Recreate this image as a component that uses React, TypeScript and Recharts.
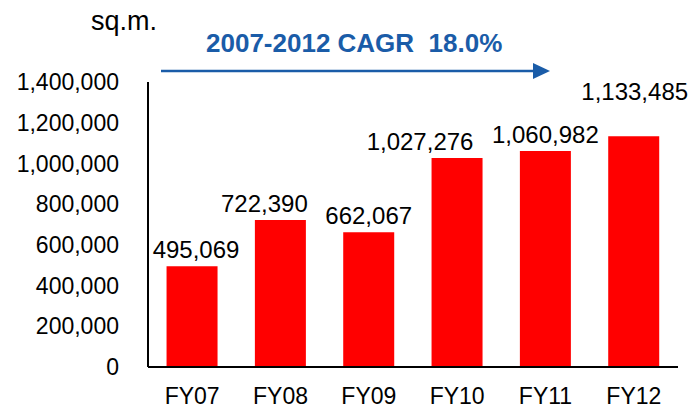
import React from "react";
import { BarChart, Bar, XAxis, YAxis, LabelList } from "recharts";

const years = ["FY07", "FY08", "FY09", "FY10", "FY11", "FY12"];
const area = [495069, 722390, 662067, 1027276, 1060982, 1133485];
const yTicks = [0, 200000, 400000, 600000, 800000, 1000000, 1200000, 1400000];

const unitLabel = "sq.m.";
const cagrLabel = "2007-2012 CAGR  18.0%";

// small nudges so the value labels sit where the original deck put them
const labelNudge: Record<string, [number, number]> = {
  FY07: [4, 0],
  FY08: [-16, 0],
  FY10: [-37, 0],
  FY12: [1, -28],
};

const FONT = "'Liberation Sans', Arial, sans-serif";
const BLUE = "#1a5ca8";

const data = years.map((y, i) => ({ year: y, value: area[i] }));

const fmt = (v: number) => v.toLocaleString("en-US");

function ValueLabel(props: any) {
  const { x, y, width, value, index } = props;
  const [dx, dy] = labelNudge[years[index]] || [0, 0];
  return (
    <text
      x={x + width / 2 + dx}
      y={y - 8 + dy}
      textAnchor="middle"
      fill="#000"
      fontSize={24}
      fontFamily={FONT}
    >
      {fmt(value)}
    </text>
  );
}

export default function App() {
  return (
    <div
      style={{
        position: "absolute",
        left: 0,
        top: 0,
        width: 694,
        height: 408,
        background: "#fff",
        fontFamily: FONT,
      }}
    >
      <BarChart
        width={694}
        height={408}
        data={data}
        margin={{ top: 82, right: 16, bottom: 0, left: 0 }}
        barCategoryGap="21%"
      >
        <XAxis
          dataKey="year"
          axisLine={{ stroke: "#000", strokeWidth: 2 }}
          tickLine={false}
          tickSize={0}
          tickMargin={21}
          height={41}
          tick={{ fill: "#000", fontSize: 23, fontFamily: FONT }}
        />
        <YAxis
          domain={[0, 1400000]}
          ticks={yTicks}
          width={148}
          axisLine={{ stroke: "#000", strokeWidth: 2 }}
          tickLine={false}
          tickSize={0}
          tickMargin={29}
          tickFormatter={fmt}
          tick={{ fill: "#000", fontSize: 23, fontFamily: FONT }}
        />
        <Bar dataKey="value" fill="#ff0000" isAnimationActive={false}>
          <LabelList dataKey="value" content={<ValueLabel />} />
        </Bar>
      </BarChart>
      <svg
        width={694}
        height={408}
        style={{ position: "absolute", left: 0, top: 0, pointerEvents: "none" }}
      >
        <text x={91} y={30} fontSize={27} fontFamily={FONT} fill="#000">
          {unitLabel}
        </text>
        <text
          x={206}
          y={52}
          fontSize={26}
          fontWeight="bold"
          fontFamily={FONT}
          fill={BLUE}
          style={{ whiteSpace: "pre" }}
        >
          {cagrLabel}
        </text>
        <line x1={161} y1={71} x2={535} y2={71} stroke={BLUE} strokeWidth={2.5} />
        <polygon points="533,63 550,71 533,79" fill={BLUE} />
      </svg>
    </div>
  );
}
